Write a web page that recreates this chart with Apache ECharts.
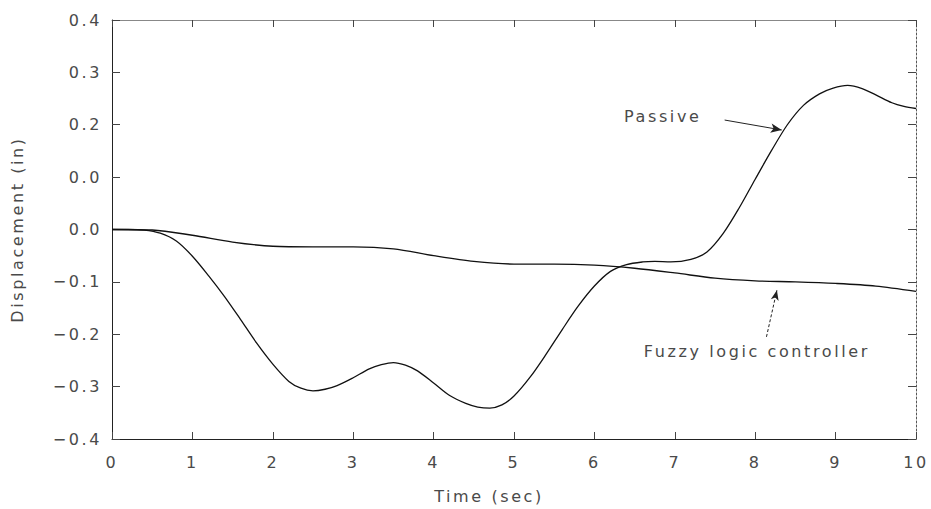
<!DOCTYPE html>
<html><head><meta charset="utf-8">
<script src="https://cdn.jsdelivr.net/npm/echarts@6/dist/echarts.min.js"></script>
<style>html,body{margin:0;padding:0;background:#fff}#c{width:931px;height:509px}#c text{letter-spacing:2.6px}</style>
</head><body><div id="c"></div>
<script>
const timePassive = [0, 0.2, 0.4, 0.6, 0.8, 1, 1.2, 1.4, 1.6, 1.8, 2, 2.2, 2.35, 2.5, 2.65, 2.8, 3, 3.2, 3.35, 3.5, 3.65, 3.8, 4, 4.2, 4.4, 4.55, 4.7, 4.85, 5, 5.2, 5.4, 5.6, 5.8, 6, 6.2, 6.4, 6.6, 6.75, 6.95, 7.2, 7.4, 7.6, 7.8, 8, 8.2, 8.4, 8.6, 8.8, 8.97, 9.15, 9.33, 9.5, 9.7, 9.85, 10];
const passive = [0, 0, -0.001, -0.007, -0.022, -0.051, -0.088, -0.128, -0.172, -0.217, -0.257, -0.290, -0.303, -0.308, -0.305, -0.298, -0.283, -0.266, -0.258, -0.254, -0.259, -0.270, -0.293, -0.317, -0.332, -0.339, -0.341, -0.335, -0.318, -0.282, -0.238, -0.191, -0.146, -0.108, -0.080, -0.067, -0.062, -0.061, -0.062, -0.057, -0.043, -0.008, 0.041, 0.096, 0.150, 0.200, 0.237, 0.259, 0.270, 0.275, 0.269, 0.257, 0.242, 0.235, 0.231];
const timeFuzzy = [0, 0.5, 1, 1.5, 2, 2.5, 3, 3.5, 4, 4.5, 5, 5.5, 6, 6.5, 7, 7.5, 8, 8.5, 9, 9.5, 10];
const fuzzy = [0, -0.001, -0.011, -0.024, -0.032, -0.033, -0.033, -0.037, -0.050, -0.061, -0.066, -0.066, -0.068, -0.074, -0.083, -0.093, -0.098, -0.100, -0.103, -0.108, -0.118];
const xTickLabels = ['0','1','2','3','4','5','6','7','8','9','10'];
const yTickLabels = ['\u22120.4','\u22120.3','\u22120.2','\u22120.1','0.0','0.0','0.2','0.3','0.4'];
const passiveLabel = 'Passive';
const passiveLabelAt = [6.85, 0.216];
const passiveArrow = [[7.62, 0.209], [8.33, 0.190]];
const fuzzyLabel = 'Fuzzy logic controller';
const fuzzyLabelAt = [8.02, -0.233];
const fuzzyArrow = [[8.14, -0.205], [8.27, -0.116]];

const FONT = 'DejaVu Sans';
const TXT = '#4a4a4a';
const FS = 16;
const chart = echarts.init(document.getElementById('c'), null, {renderer: 'svg'});
const zip = (a, b) => a.map((t, i) => [t, b[i]]);
const frameX = (pos, showLabel, lineColor) => ({
  type: 'value', position: pos, min: 0, max: 10, interval: 1,
  axisLine: {show: true, onZero: false, lineStyle: {color: lineColor, width: 1}},
  axisTick: {show: true, inside: true, length: 7, lineStyle: {color: '#444', width: 1}},
  axisLabel: {show: showLabel, color: TXT, fontFamily: FONT, fontSize: FS, margin: 15,
    formatter: v => xTickLabels[Math.round(v)]},
  splitLine: {show: false}
});
const frameY = (pos, showLabel, lineColor, lineType) => ({
  type: 'value', position: pos, min: -0.4, max: 0.4, interval: 0.1,
  axisLine: {show: true, onZero: false, lineStyle: {color: lineColor, width: 1, type: lineType}},
  axisTick: {show: true, inside: true, length: 8, lineStyle: {color: '#444', width: 1}},
  axisLabel: {show: showLabel, color: TXT, fontFamily: FONT, fontSize: FS, margin: 10,
    formatter: v => yTickLabels[Math.round((v + 0.4) / 0.1)]},
  splitLine: {show: false}
});
const xb = frameX('bottom', true, '#222');
xb.name = 'Time (sec)'; xb.nameLocation = 'middle'; xb.nameGap = 49;
xb.nameTextStyle = {color: TXT, fontFamily: FONT, fontSize: FS, padding: [0, 50, 0, 0]};
const yl = frameY('left', true, '#222', 'solid');
yl.name = 'Displacement (in)'; yl.nameLocation = 'middle'; yl.nameGap = 87;
yl.nameTextStyle = {color: TXT, fontFamily: FONT, fontSize: FS};

const lineStyle = {color: '#111', width: 1.3};
chart.setOption({
  animation: false,
  backgroundColor: '#fff',
  grid: {left: 112, right: 15, top: 20, bottom: 66, containLabel: false},
  xAxis: [xb, frameX('top', false, '#888')],
  yAxis: [yl, frameY('right', false, '#555', [2, 2])],
  series: [
    {
      name: 'Passive', type: 'line', data: zip(timePassive, passive), showSymbol: false, smooth: 0.3,
      lineStyle: lineStyle, silent: true,
      markLine: {silent: true, symbol: ['none', 'arrow'], symbolSize: [7, 11],
        lineStyle: {color: '#222', width: 1, type: 'solid'}, label: {show: false},
        data: [[{coord: passiveArrow[0]}, {coord: passiveArrow[1]}]]},
      markPoint: {silent: true, symbol: 'circle', symbolSize: 0,
        label: {show: true, position: 'inside', color: TXT, fontFamily: FONT, fontSize: FS},
        data: [{coord: passiveLabelAt, value: passiveLabel, label: {formatter: passiveLabel}}]}
    },
    {
      name: 'Fuzzy logic controller', type: 'line', data: zip(timeFuzzy, fuzzy), showSymbol: false, smooth: 0.3,
      lineStyle: lineStyle, silent: true,
      markLine: {silent: true, symbol: ['none', 'arrow'], symbolSize: [6, 10],
        lineStyle: {color: '#222', width: 1, type: [3, 2]}, label: {show: false},
        data: [[{coord: fuzzyArrow[0]}, {coord: fuzzyArrow[1]}]]},
      markPoint: {silent: true, symbol: 'circle', symbolSize: 0,
        label: {show: true, position: 'inside', color: TXT, fontFamily: FONT, fontSize: FS},
        data: [{coord: fuzzyLabelAt, value: fuzzyLabel, label: {formatter: fuzzyLabel}}]}
    }
  ]
});
</script></body></html>
